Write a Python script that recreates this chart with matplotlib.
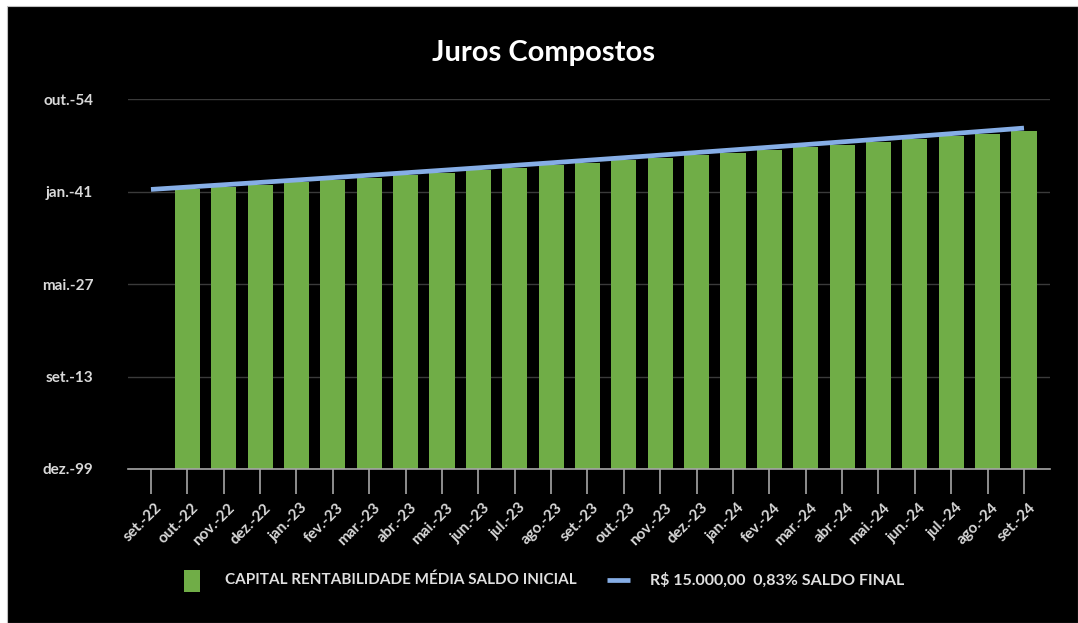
import matplotlib
matplotlib.use("Agg")
import matplotlib.pyplot as plt
import numpy as np
from matplotlib.patches import Rectangle
from matplotlib.lines import Line2D
from matplotlib.transforms import ScaledTranslation

plt.rcParams["font.family"] = ["Lato", "DejaVu Sans"]

# Months on the category axis
months = ["set.-22", "out.-22", "nov.-22", "dez.-22", "jan.-23", "fev.-23", "mar.-23",
          "abr.-23", "mai.-23", "jun.-23", "jul.-23", "ago.-23", "set.-23", "out.-23",
          "nov.-23", "dez.-23", "jan.-24", "fev.-24", "mar.-24", "abr.-24", "mai.-24",
          "jun.-24", "jul.-24", "ago.-24", "set.-24"]

# Opening balance of each month (no bar for the first month)
saldo_inicial = [np.nan, 15124.50, 15250.03, 15376.61, 15504.23, 15632.92, 15762.67,
                 15893.50, 16025.42, 16158.43, 16292.54, 16427.77, 16564.12, 16701.60,
                 16840.22, 16979.99, 17120.93, 17263.03, 17406.31, 17550.78, 17696.45,
                 17843.33, 17991.43, 18140.76, 18291.33]

# Closing balance line
saldo_final = [15124.50, 15250.03, 15376.61, 15504.23, 15632.92, 15762.67, 15893.50,
               16025.42, 16158.43, 16292.54, 16427.77, 16564.12, 16701.60, 16840.22,
               16979.99, 17120.93, 17263.03, 17406.31, 17550.78, 17696.45, 17843.33,
               17991.43, 18140.76, 18291.33, 18443.15]

# Value axis (cells formatted as dates in the source sheet)
y_ticks = [0, 5000, 10000, 15000, 20000]
y_labels = ["dez.-99", "set.-13", "mai.-27", "jan.-41", "out.-54"]

legend_bar = "CAPITAL RENTABILIDADE MÉDIA SALDO INICIAL"
legend_line = "R$ 15.000,00  0,83% SALDO FINAL"
title = "Juros Compostos"

W, H = 1078, 623
fig = plt.figure(figsize=(W / 100, H / 100), dpi=100, facecolor="white")

# Black chart area inside a thin light border
fig.patches.append(Rectangle((7 / W, 0), (W - 7) / W, (H - 6) / H,
                             transform=fig.transFigure, facecolor="black",
                             edgecolor="#bfbfbf", linewidth=0.8, zorder=-5))

ax = fig.add_axes([128 / W, 1 - 469 / H, (1050 - 128) / W, (469 - 99.3) / H])
ax.set_zorder(2)
ax.patch.set_alpha(0)

x = np.arange(len(months))
ax.bar(x, saldo_inicial, width=0.69, color="#70ad47", zorder=2)
ax.plot(x, saldo_final, color="#86aee6", linewidth=3.4, solid_capstyle="butt", zorder=3)

ax.set_xlim(-0.632, 24.715)
ax.set_ylim(0, 20000)
ax.set_yticks(y_ticks)
ax.set_yticklabels(y_labels)
ax.set_xticks(x)
ax.set_xticklabels(months, rotation=45, ha="right", va="center", rotation_mode="anchor")

for s in ["top", "right", "left"]:
    ax.spines[s].set_visible(False)
ax.spines["bottom"].set_color("#a6a6a6")
ax.spines["bottom"].set_linewidth(1.2)

ax.grid(axis="y", color="#3a3a3a", linewidth=1.0, zorder=0)
ax.set_axisbelow(True)

ax.tick_params(axis="y", length=0, pad=25, labelsize=11, labelcolor="#d9d9d9")
ax.tick_params(axis="x", length=18, width=1.2, color="#a6a6a6", direction="out",
               pad=4, labelsize=11, labelcolor="#d9d9d9")
for lbl in ax.get_yticklabels() + ax.get_xticklabels():
    lbl.set_fontweight("bold")

shift = ScaledTranslation(9 / 100, -6 / 100, fig.dpi_scale_trans)
for lbl in ax.get_xticklabels():
    lbl.set_transform(lbl.get_transform() + shift)

fig.text(543.5 / W, 1 - 53 / H, title, ha="center", va="center",
         fontsize=21, fontweight="bold", color="white", zorder=3)

# Legend drawn along the bottom
ly = 1 - 580 / H
fig.patches.append(Rectangle((184 / W, 1 - 592 / H), 16 / W, 22 / H,
                             transform=fig.transFigure, facecolor="#70ad47",
                             edgecolor="none", zorder=3))
fig.text(225 / W, ly, legend_bar, ha="left", va="center", fontsize=11,
         fontweight="bold", color="#e0e0e0", zorder=3)
fig.lines.append(Line2D([607 / W, 630 / W], [ly, ly], transform=fig.transFigure,
                        color="#86aee6", linewidth=3.4, solid_capstyle="butt", zorder=3))
fig.text(650 / W, ly, legend_line, ha="left", va="center", fontsize=11.5,
         fontweight="bold", color="#e0e0e0", zorder=3)

fig.savefig("out.png", dpi=100, facecolor=fig.get_facecolor())
